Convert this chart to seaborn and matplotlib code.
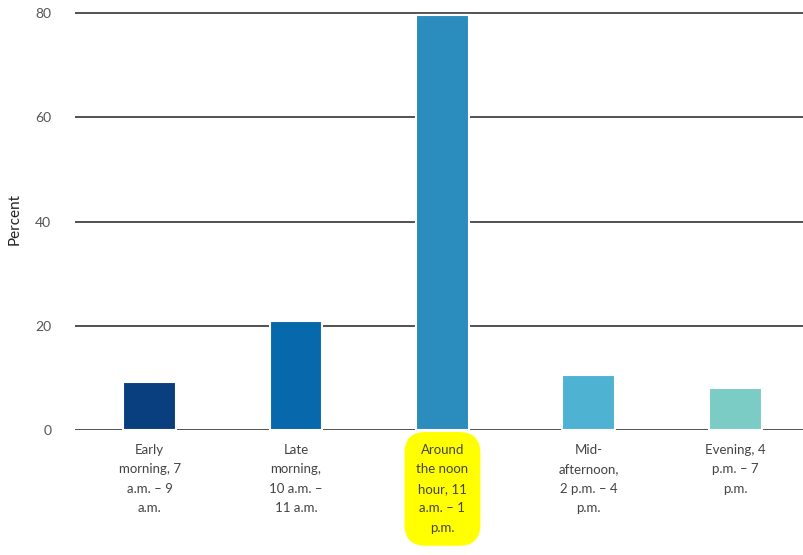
import matplotlib
matplotlib.use("Agg")
import matplotlib.pyplot as plt
import seaborn as sns
import pandas as pd

# time-of-day categories and share (percent)
categories = [
    "Early\nmorning, 7\na.m. \u2013 9\na.m.",
    "Late\nmorning,\n10 a.m. \u2013\n11 a.m.",
    "Around\nthe noon\nhour, 11\na.m. \u2013 1\np.m.",
    "Mid-\nafternoon,\n2 p.m. \u2013 4\np.m.",
    "Evening, 4\np.m. \u2013 7\np.m.",
]
percent = [9.2, 21.0, 79.6, 10.5, 8.1]
bar_colors = ["#0a3f7f", "#0868ac", "#2b8cbe", "#4eb3d3", "#7bccc4"]
y_ticks = [0, 20, 40, 60, 80]

sns.set_style("white")
plt.rcParams["font.family"] = ["Lato", "DejaVu Sans"]

df = pd.DataFrame({"period": categories, "percent": percent})

fig = plt.figure(figsize=(8.04, 5.55), dpi=100)
ax = fig.add_axes([75 / 804, 125 / 555, 1 - 75 / 804, (430 - 8) / 555])

sns.barplot(data=df, x="period", y="percent", hue="period", palette=bar_colors,
            saturation=1, legend=False, width=0.36, edgecolor="white",
            linewidth=1.5, ax=ax)

ax.set_ylim(0, 81)
ax.set_xlim(-0.51, 4.47)
ax.set_yticks(y_ticks)
ax.yaxis.grid(True, color="#222222", linewidth=1.1)
ax.set_axisbelow(True)
sns.despine(ax=ax, left=True, bottom=True)

ax.tick_params(axis="y", length=0, pad=17, labelsize=10, labelcolor="#555555")
ax.tick_params(axis="x", length=0, pad=10, labelsize=9.5, labelcolor="#444444")
for lab in ax.get_xticklabels():
    lab.set_linespacing(1.75)
ax.get_xticklabels()[2].set_bbox(dict(facecolor="#ffff00", edgecolor="none",
                                      boxstyle="round,pad=0.9,rounding_size=1.6"))

ax.set_xlabel("")
ax.set_ylabel("Percent", fontsize=11, color="#222222", labelpad=10)

fig.savefig("out.png", dpi=100)
